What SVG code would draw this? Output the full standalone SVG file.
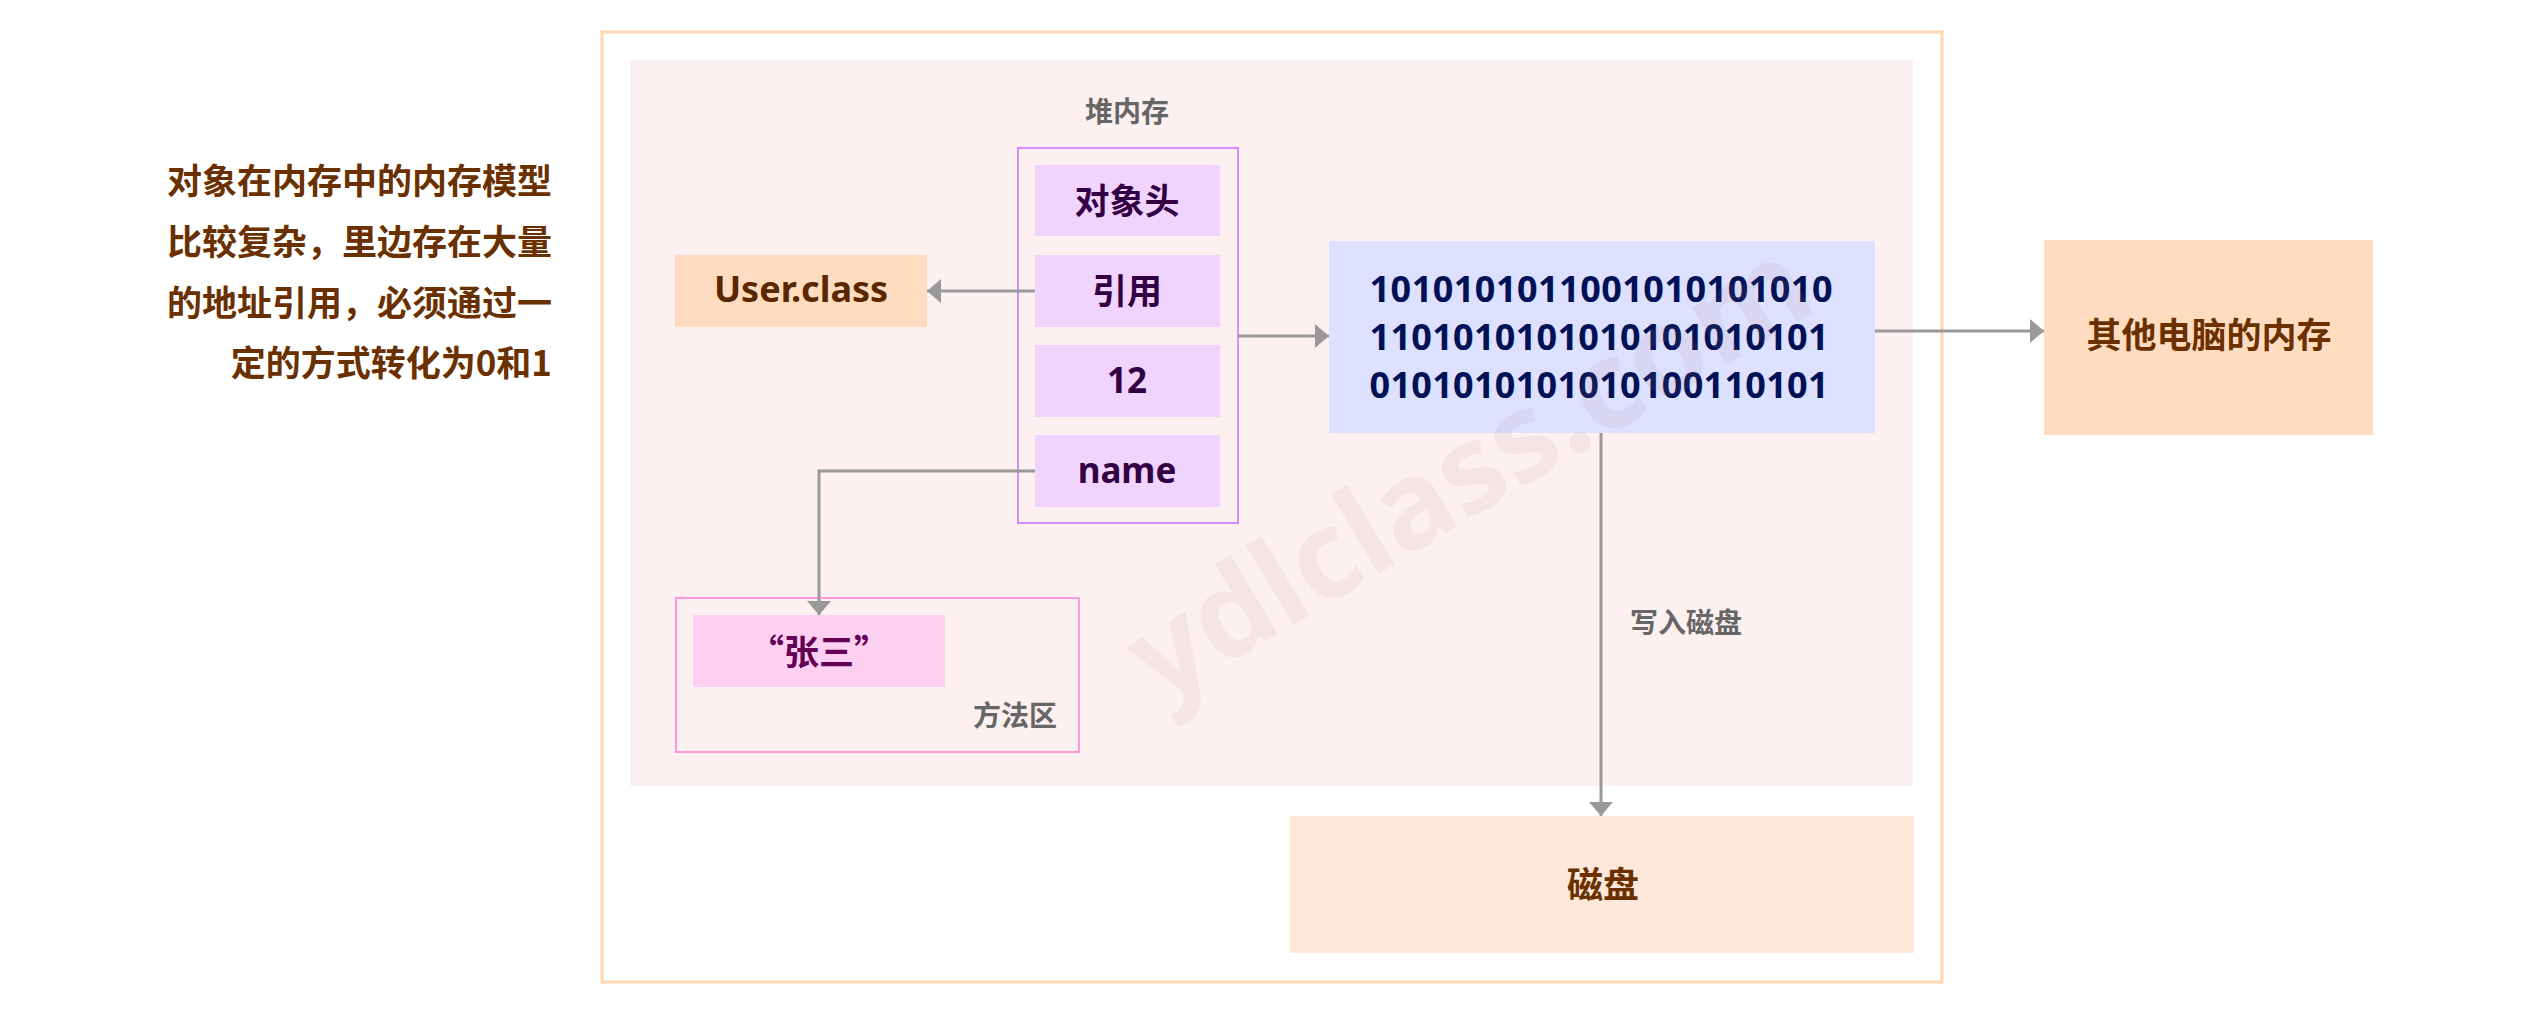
<svg xmlns="http://www.w3.org/2000/svg" width="2538" height="1020" viewBox="0 0 2538 1020">
<style>
  text { font-family: "Noto Sans", "Noto Sans CJK SC", sans-serif; font-weight: bold; }
  .cjk { font-family: "Noto Sans CJK SC", "Noto Sans", sans-serif; font-weight: bold; }
  .cell { fill: #f0d4fe; }
  .cellText { fill: #330044; font-size: 35px; text-anchor: middle; }
  .peach { fill: #ffdcc0; }
  .brown { fill: #6b3000; }
  .gray { fill: #666666; }
  .conn { fill: none; stroke: #999999; stroke-width: 3; }
  .bin { fill: #001155; font-size: 36px; text-anchor: middle; }
</style>
<defs>
  <marker id="arrow" markerUnits="userSpaceOnUse" markerWidth="16" markerHeight="26" refX="14" refY="12" orient="auto">
    <path d="M0,0 L14,12 L0,24 Z" fill="#999999"/>
  </marker>
</defs>
<rect x="0" y="0" width="2538" height="1020" fill="#ffffff"/>

<g id="intro">
  <text class="cjk brown" x="552" y="194" font-size="35" text-anchor="end">对象在内存中的内存模型</text>
  <text class="cjk brown" x="552" y="255" font-size="35" text-anchor="end">比较复杂，里边存在大量</text>
  <text class="cjk brown" x="552" y="316" font-size="35" text-anchor="end">的地址引用，必须通过一</text>
  <text class="cjk brown" x="552" y="376" font-size="35" text-anchor="end">定的方式转化为0和1</text>
</g>

<g id="frame">
  <rect x="602" y="32" width="1340" height="950" fill="none" stroke="#ffd7b0" stroke-width="3"/>
</g>

<g id="heap">
  <rect x="630" y="60" width="1283" height="726" fill="#fdf0f0"/>
  <text class="cjk gray" x="1127" y="122" font-size="28" text-anchor="middle">堆内存</text>
</g>

<g id="object">
  <rect x="1018" y="148" width="220" height="375" fill="none" stroke="#d88cff" stroke-width="2"/>
  <g id="cell-header">
    <rect class="cell" x="1035" y="165" width="185" height="71"/>
    <text class="cjk cellText" x="1127" y="214">对象头</text>
  </g>
  <g id="cell-ref">
    <rect class="cell" x="1035" y="255" width="185" height="72"/>
    <text class="cjk cellText" x="1127" y="304">引用</text>
  </g>
  <g id="cell-12">
    <rect class="cell" x="1035" y="345" width="185" height="72"/>
    <text class="cellText" x="1127" y="393">12</text>
  </g>
  <g id="cell-name">
    <rect class="cell" x="1035" y="435" width="185" height="72"/>
    <text class="cellText" x="1127" y="483">name</text>
  </g>
</g>

<g id="userclass">
  <rect class="peach" x="675" y="255" width="252" height="72"/>
  <text x="801" y="302" font-size="36" fill="#5a2800" text-anchor="middle">User.class</text>
</g>

<g id="methodarea">
  <rect x="676" y="598" width="403" height="154" fill="none" stroke="#ff99dd" stroke-width="2"/>
  <text class="cjk gray" x="1057" y="726" font-size="28" text-anchor="end">方法区</text>
</g>

<g id="zhangsan">
  <rect x="693" y="615" width="252" height="72" fill="#fdd0f2"/>
  <text class="cjk" x="819" y="665" font-size="35" fill="#660055" text-anchor="middle">“张三”</text>
</g>

<g id="binary">
  <rect x="1329" y="241" width="546" height="192" fill="#dde0ff"/>
  <text class="bin" x="1601" y="302" textLength="463" lengthAdjust="spacing">1010101011001010101010</text>
  <text class="bin" x="1599" y="350" textLength="459" lengthAdjust="spacing">1101010101010101010101</text>
  <text class="bin" x="1599" y="398" textLength="459" lengthAdjust="spacing">0101010101010100110101</text>
</g>

<g id="othermem">
  <rect class="peach" x="2044" y="240" width="329" height="195"/>
  <text class="cjk brown" x="2209" y="348" font-size="35" text-anchor="middle">其他电脑的内存</text>
</g>

<g id="disk">
  <rect x="1290" y="816" width="624" height="137" fill="#fee8d9"/>
  <text class="cjk brown" x="1603" y="898" font-size="36" text-anchor="middle">磁盘</text>
</g>

<g id="connectors">
  <path class="conn" d="M1035,291 L927,291" marker-end="url(#arrow)"/>
  <path class="conn" d="M1035,471 L819,471 L819,615" marker-end="url(#arrow)"/>
  <path class="conn" d="M1238,336 L1329,336" marker-end="url(#arrow)"/>
  <path class="conn" d="M1875,331 L2044,331" marker-end="url(#arrow)"/>
  <path class="conn" d="M1601,433 L1601,816" marker-end="url(#arrow)"/>
  <text class="cjk gray" x="1630" y="633" font-size="28">写入磁盘</text>
</g>

<text x="1160" y="705" font-size="122" fill="#b08080" fill-opacity="0.1" transform="rotate(-31 1160 705)">ydlclass.com</text>
</svg>
